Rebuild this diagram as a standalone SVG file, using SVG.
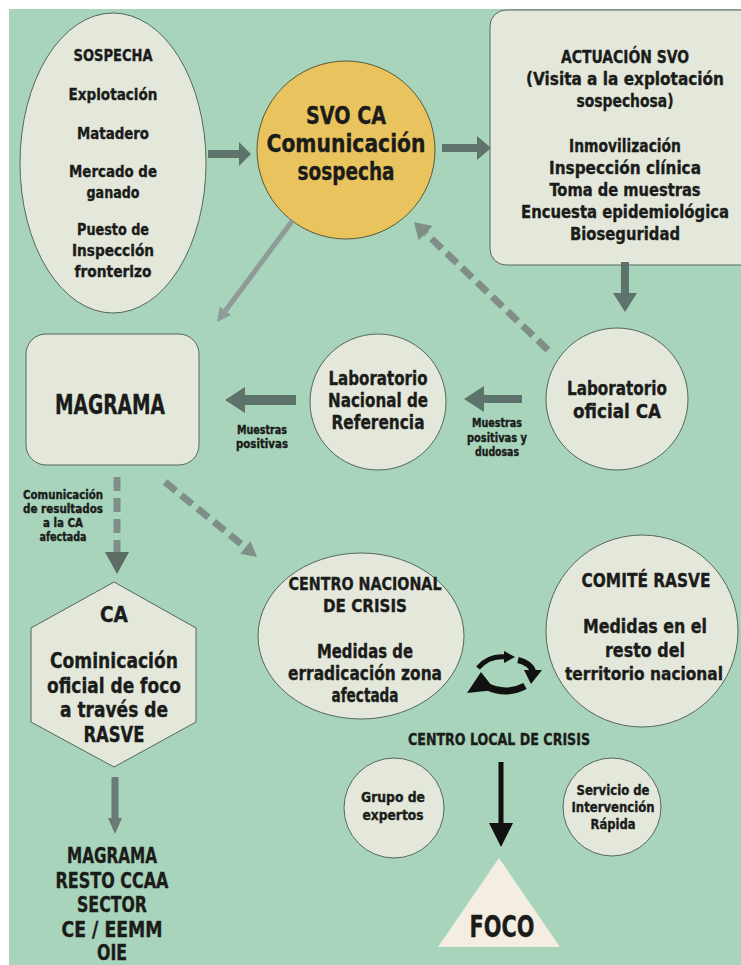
<svg xmlns="http://www.w3.org/2000/svg" width="741" height="965" viewBox="0 0 741 965">
<style>
.t{font-family:"DejaVu Sans Condensed","DejaVu Sans",sans-serif;font-weight:bold;fill:#1b1c1a;stroke:#1b1c1a;stroke-width:0.35;text-anchor:middle}
.node{fill:#e3e8db;stroke:#56665b;stroke-width:1}
.arr{fill:#5e736c}
.arrl{fill:#8e9b96}
.dash{fill:none;stroke:#7f8f88;stroke-width:7;stroke-dasharray:14 7}
.s12{font-size:12px}.s14{font-size:14px}.s16{font-size:16px}.s17{font-size:17px}.s18{font-size:18px}.s19{font-size:19px}.s20{font-size:20px}.s21{font-size:21px}.s25{font-size:25px}.s27{font-size:27px}.s30{font-size:30px}
</style>
<rect x="0" y="0" width="741" height="965" fill="#ffffff"/>
<rect x="9" y="9" width="732" height="956" fill="#a7d4bb"/>

<g id="sospecha">
<ellipse class="node" cx="113" cy="163" rx="93" ry="150"/>
<text class="t s16" x="113" y="61" textLength="79" lengthAdjust="spacingAndGlyphs">SOSPECHA</text>
<text class="t s16" x="113" y="100" textLength="89" lengthAdjust="spacingAndGlyphs">Explotación</text>
<text class="t s16" x="113" y="139" textLength="72" lengthAdjust="spacingAndGlyphs">Matadero</text>
<text class="t s16" x="113" y="177" textLength="88" lengthAdjust="spacingAndGlyphs">Mercado de</text>
<text class="t s16" x="113" y="198" textLength="53" lengthAdjust="spacingAndGlyphs">ganado</text>
<text class="t s16" x="113" y="235" textLength="72" lengthAdjust="spacingAndGlyphs">Puesto de</text>
<text class="t s16" x="113" y="256" textLength="82" lengthAdjust="spacingAndGlyphs">Inspección</text>
<text class="t s16" x="113" y="277" textLength="77" lengthAdjust="spacingAndGlyphs">fronterizo</text>
</g>

<g id="svo">
<circle cx="346" cy="150" r="89" fill="#e8c35e" stroke="#5a5a3a" stroke-width="1"/>
<text class="t s25" x="346" y="124" textLength="80" lengthAdjust="spacingAndGlyphs">SVO CA</text>
<text class="t s25" x="346" y="152" textLength="159" lengthAdjust="spacingAndGlyphs">Comunicación</text>
<text class="t s25" x="346" y="180" textLength="97" lengthAdjust="spacingAndGlyphs">sospecha</text>
</g>

<g id="actuacion">
<rect class="node" x="490" y="10" width="270" height="255" rx="16"/>
<text class="t s18" x="625" y="63" textLength="128" lengthAdjust="spacingAndGlyphs">ACTUACIÓN SVO</text>
<text class="t s18" x="625" y="85" textLength="198" lengthAdjust="spacingAndGlyphs">(Visita a la explotación</text>
<text class="t s18" x="625" y="107" textLength="97" lengthAdjust="spacingAndGlyphs">sospechosa)</text>
<text class="t s18" x="625" y="152" textLength="112" lengthAdjust="spacingAndGlyphs">Inmovilización</text>
<text class="t s18" x="625" y="174" textLength="152" lengthAdjust="spacingAndGlyphs">Inspección clínica</text>
<text class="t s18" x="625" y="196" textLength="151" lengthAdjust="spacingAndGlyphs">Toma de muestras</text>
<text class="t s17" x="625" y="218" textLength="208" lengthAdjust="spacingAndGlyphs">Encuesta epidemiológica</text>
<text class="t s18" x="625" y="240" textLength="110" lengthAdjust="spacingAndGlyphs">Bioseguridad</text>
</g>

<g id="lab-oficial">
<circle class="node" cx="617" cy="399" r="71"/>
<text class="t s20" x="617" y="395" textLength="100" lengthAdjust="spacingAndGlyphs">Laboratorio</text>
<text class="t s20" x="617" y="418" textLength="88" lengthAdjust="spacingAndGlyphs">oficial CA</text>
</g>

<g id="lab-nacional">
<circle class="node" cx="378" cy="402" r="68"/>
<text class="t s19" x="378" y="385" textLength="99" lengthAdjust="spacingAndGlyphs">Laboratorio</text>
<text class="t s19" x="378" y="407" textLength="100" lengthAdjust="spacingAndGlyphs">Nacional de</text>
<text class="t s19" x="378" y="429" textLength="93" lengthAdjust="spacingAndGlyphs">Referencia</text>
</g>

<g id="magrama">
<rect class="node" x="26" y="334" width="173" height="131" rx="20"/>
<text class="t s27" x="110" y="414" textLength="110" lengthAdjust="spacingAndGlyphs">MAGRAMA</text>
</g>

<g id="ca">
<polygon class="node" points="114,582 196,628 196,722 114,767 31,722 31,628"/>
<text class="t s21" x="114" y="622" textLength="28" lengthAdjust="spacingAndGlyphs">CA</text>
<text class="t s21" x="114" y="668" textLength="128" lengthAdjust="spacingAndGlyphs">Cominicación</text>
<text class="t s21" x="114" y="693" textLength="134" lengthAdjust="spacingAndGlyphs">oficial de foco</text>
<text class="t s21" x="114" y="717" textLength="108" lengthAdjust="spacingAndGlyphs">a través de</text>
<text class="t s21" x="114" y="742" textLength="61" lengthAdjust="spacingAndGlyphs">RASVE</text>
</g>

<g id="destinatarios">
<text class="t s21" x="112" y="863" textLength="90" lengthAdjust="spacingAndGlyphs">MAGRAMA</text>
<text class="t s21" x="112" y="888" textLength="113" lengthAdjust="spacingAndGlyphs">RESTO CCAA</text>
<text class="t s21" x="112" y="912" textLength="70" lengthAdjust="spacingAndGlyphs">SECTOR</text>
<text class="t s21" x="112" y="937" textLength="101" lengthAdjust="spacingAndGlyphs">CE / EEMM</text>
<text class="t s21" x="112" y="960" textLength="30" lengthAdjust="spacingAndGlyphs">OIE</text>
</g>

<g id="centro-nacional">
<ellipse class="node" cx="361" cy="636" rx="103" ry="83"/>
<text class="t s18" x="365" y="590" textLength="153" lengthAdjust="spacingAndGlyphs">CENTRO NACIONAL</text>
<text class="t s18" x="365" y="612" textLength="84" lengthAdjust="spacingAndGlyphs">DE CRISIS</text>
<text class="t s19" x="365" y="658" textLength="96" lengthAdjust="spacingAndGlyphs">Medidas de</text>
<text class="t s19" x="365" y="680" textLength="154" lengthAdjust="spacingAndGlyphs">erradicación zona</text>
<text class="t s19" x="365" y="702" textLength="67" lengthAdjust="spacingAndGlyphs">afectada</text>
</g>

<g id="comite-rasve">
<circle class="node" cx="642" cy="631" r="96"/>
<text class="t s20" x="646" y="587" textLength="129" lengthAdjust="spacingAndGlyphs">COMITÉ RASVE</text>
<text class="t s20" x="645" y="633" textLength="124" lengthAdjust="spacingAndGlyphs">Medidas en el</text>
<text class="t s20" x="645" y="657" textLength="80" lengthAdjust="spacingAndGlyphs">resto del</text>
<text class="t s18" x="644" y="680" textLength="158" lengthAdjust="spacingAndGlyphs">territorio nacional</text>
</g>

<g id="ciclo">
<path d="M478,668 Q489,655 506,657" fill="none" stroke="#111" stroke-width="5"/>
<polygon points="504,651 515,657 504,663" fill="#111"/>
<path d="M518,660 Q530,663 533,671" fill="none" stroke="#111" stroke-width="6"/>
<polygon points="524,670 542,670 531,684" fill="#111"/>
<path d="M525,686 Q506,696 486,686" fill="none" stroke="#111" stroke-width="7"/>
<polygon points="481,672 467,693 495,690" fill="#111"/>
</g>

<g id="centro-local">
<text class="t s16" x="499" y="745" textLength="182" lengthAdjust="spacingAndGlyphs">CENTRO LOCAL DE CRISIS</text>
</g>

<g id="grupo-expertos">
<circle class="node" cx="394" cy="808" r="50"/>
<text class="t s14" x="393" y="802" textLength="64" lengthAdjust="spacingAndGlyphs">Grupo de</text>
<text class="t s14" x="393" y="820" textLength="61" lengthAdjust="spacingAndGlyphs">expertos</text>
</g>

<g id="servicio">
<circle class="node" cx="612" cy="807" r="49"/>
<text class="t s14" x="613" y="795" textLength="73" lengthAdjust="spacingAndGlyphs">Servicio de</text>
<text class="t s14" x="613" y="812" textLength="83" lengthAdjust="spacingAndGlyphs">Intervención</text>
<text class="t s14" x="613" y="829" textLength="45" lengthAdjust="spacingAndGlyphs">Rápida</text>
</g>

<g id="foco">
<polygon points="499,858 560,947 438,947" fill="#f3eee1"/>
<text class="t s30" x="502" y="937" textLength="65" lengthAdjust="spacingAndGlyphs">FOCO</text>
</g>

<g id="connectors">
<polygon class="arr" points="208,150 239,150 239,142 251,154 239,166 239,158 208,158"/>
<polygon class="arr" points="442,144 477,144 477,136 491,148 477,160 477,152 442,152"/>
<polygon class="arr" points="621,262 629,262 629,293 637,293 625,312 613,293 621,293"/>
<polygon class="arr" points="522,395 484,395 484,386 464,399 484,412 484,403 522,403"/>
<polygon class="arr" points="296,395 245,395 245,387 225,400 245,413 245,405 296,405"/>
<line x1="293" y1="220" x2="225.4" y2="310.8" stroke="#8e9b96" stroke-width="5"/>
<polygon class="arrl" points="217,322 231,315 219.8,306.6"/>
<line class="dash" x1="548" y1="350" x2="425.6" y2="233.1"/>
<polygon fill="#7f8f88" points="414,222 432.5,225.9 418.7,240.3"/>
<line class="dash" x1="117" y1="477" x2="117" y2="552"/>
<polygon fill="#5d6b65" points="105,552 129,552 117,574"/>
<line class="dash" x1="165" y1="482" x2="245.4" y2="547.5"/>
<polygon fill="#7f8f88" points="257,557 240.3,553.7 250.5,541.3"/>
<polygon fill="#6b7a74" points="111.5,777 118.5,777 118.5,818 122,818 115,834 108,818 111.5,818"/>
<polygon fill="#111" points="498.5,762 503.5,762 503.5,823 513,823 501,847 489,823 498.5,823"/>
<text class="t s12" x="262" y="434" textLength="50" lengthAdjust="spacingAndGlyphs">Muestras</text>
<text class="t s12" x="262" y="448" textLength="52" lengthAdjust="spacingAndGlyphs">positivas</text>
<text class="t s12" x="497" y="427" textLength="50" lengthAdjust="spacingAndGlyphs">Muestras</text>
<text class="t s12" x="497" y="442" textLength="60" lengthAdjust="spacingAndGlyphs">positivas y</text>
<text class="t s12" x="497" y="456" textLength="44" lengthAdjust="spacingAndGlyphs">dudosas</text>
<text class="t s12" x="63" y="499" textLength="80" lengthAdjust="spacingAndGlyphs">Comunicación</text>
<text class="t s12" x="63" y="513" textLength="80" lengthAdjust="spacingAndGlyphs">de resultados</text>
<text class="t s12" x="63" y="527" textLength="40" lengthAdjust="spacingAndGlyphs">a la CA</text>
<text class="t s12" x="63" y="541" textLength="47" lengthAdjust="spacingAndGlyphs">afectada</text>
</g>
</svg>
